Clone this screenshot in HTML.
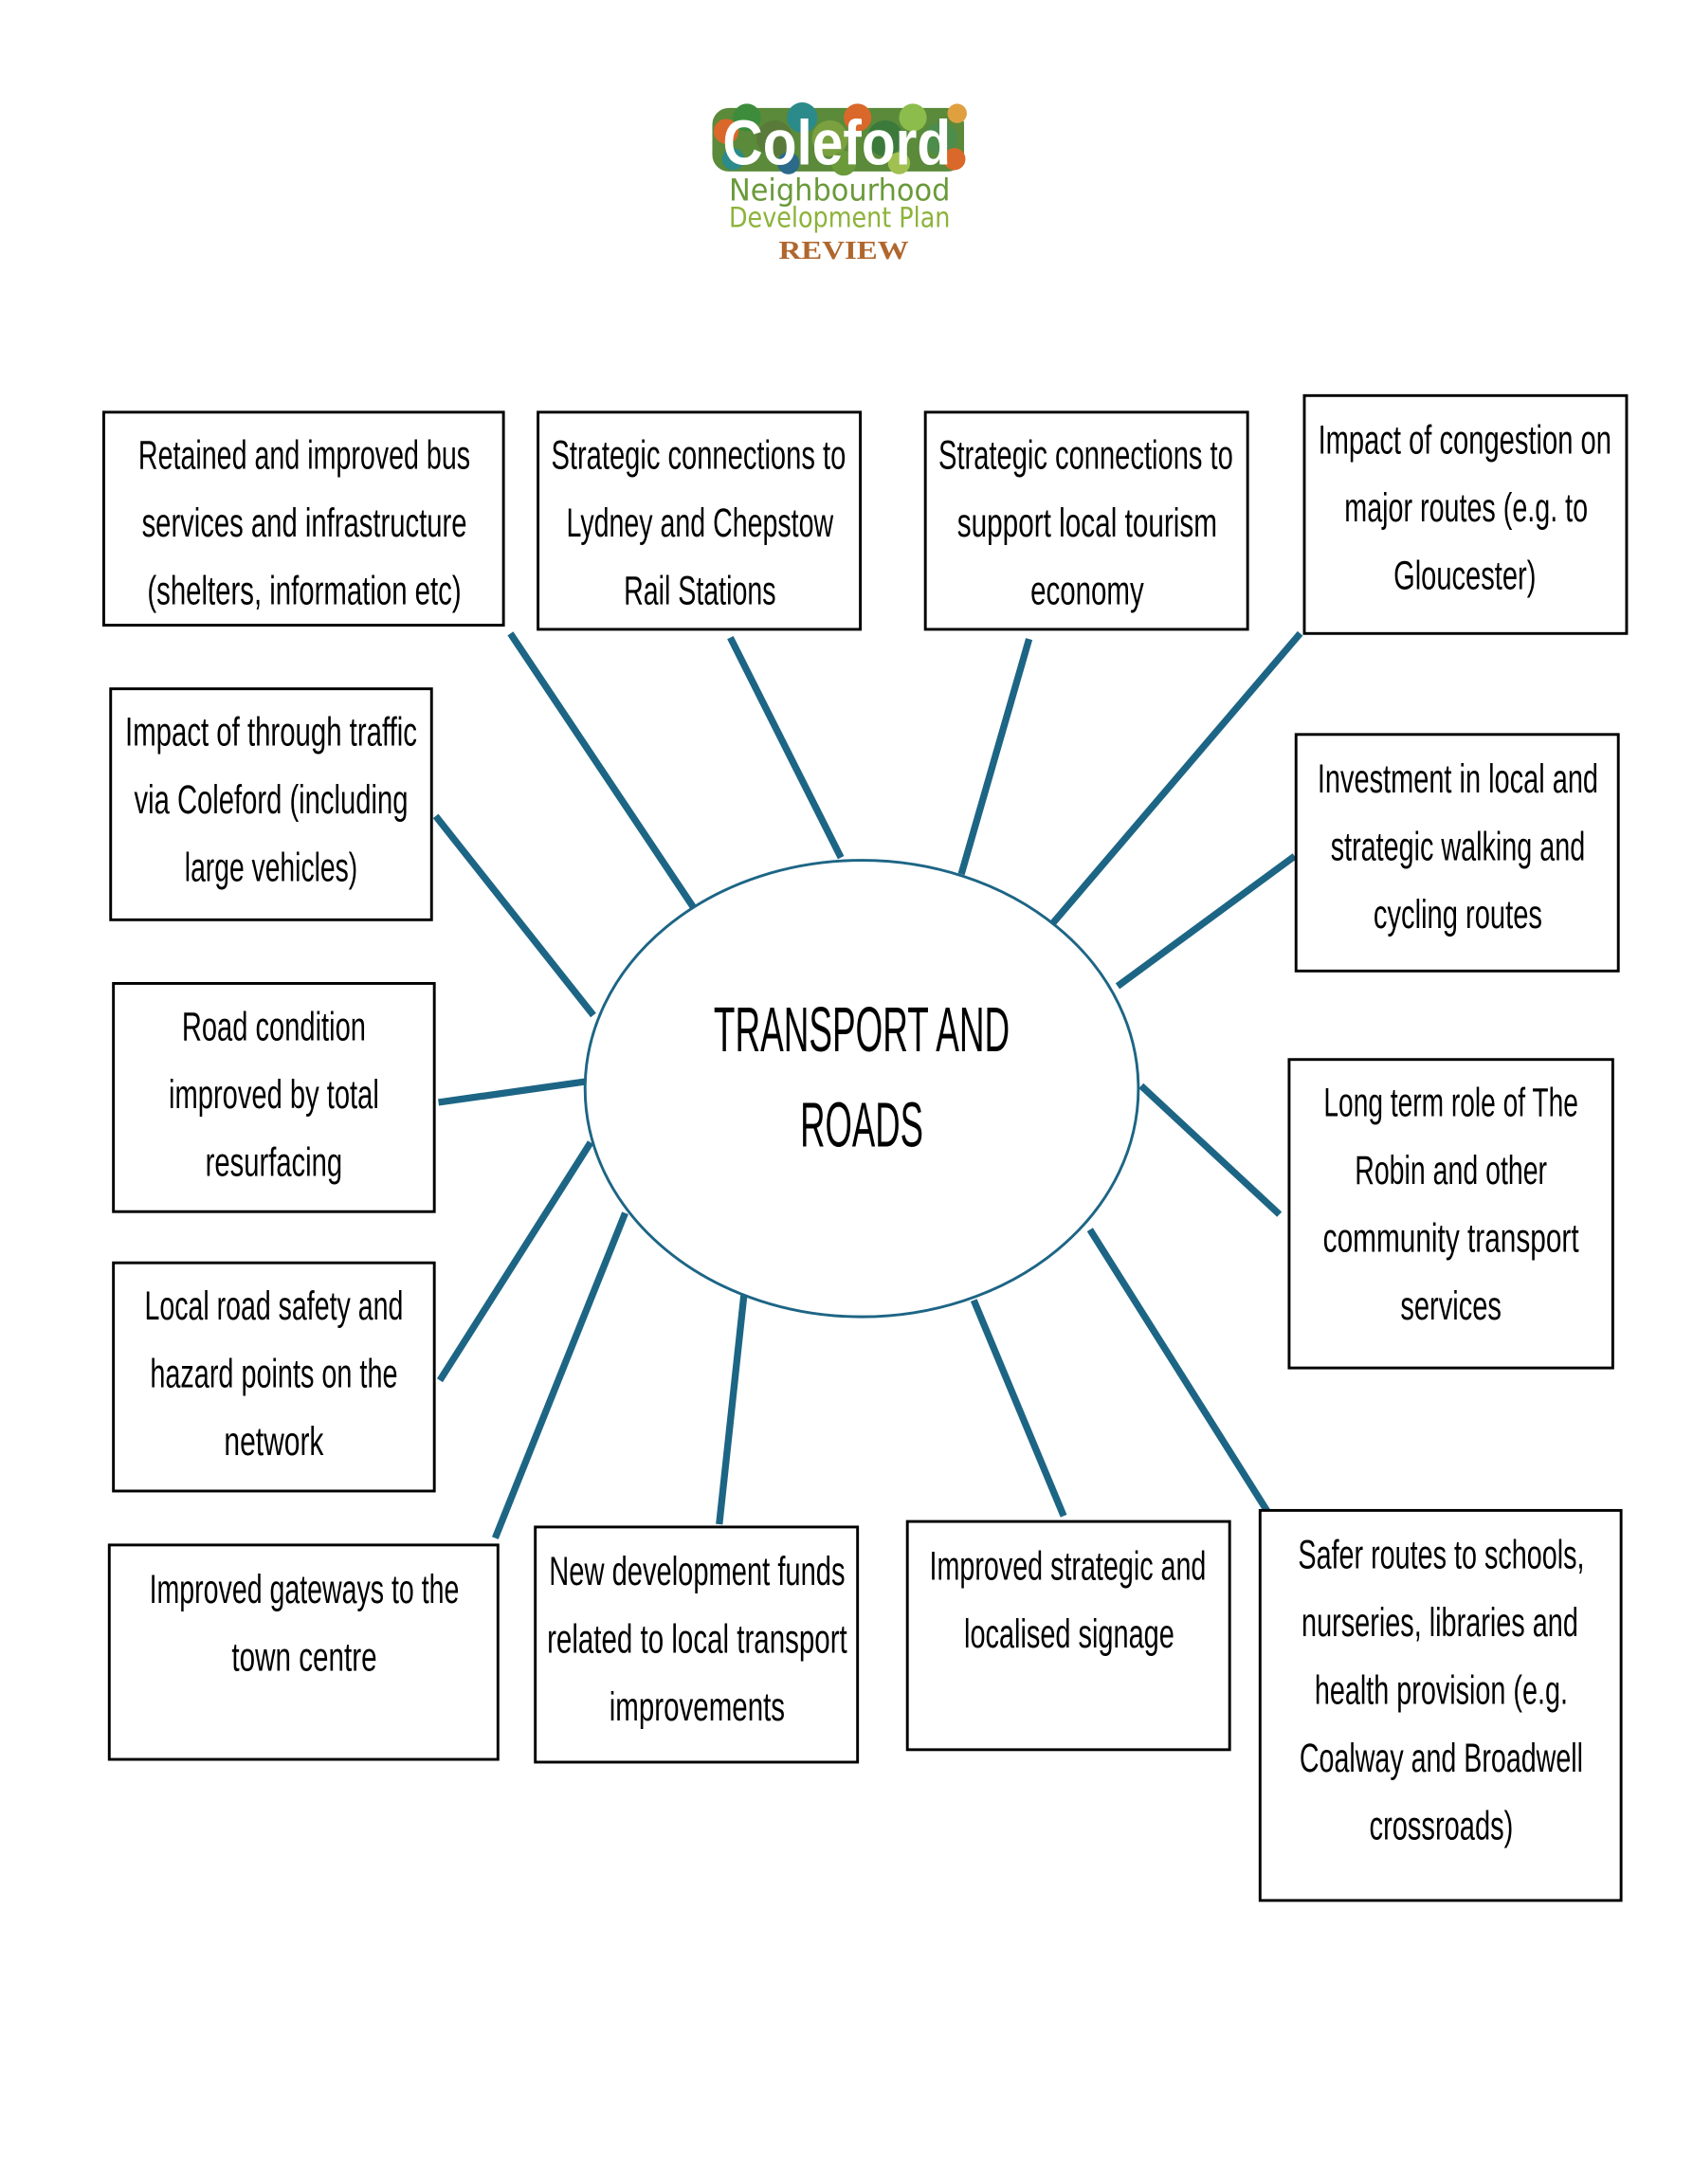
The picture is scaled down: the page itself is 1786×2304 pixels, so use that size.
<!DOCTYPE html>
<html><head><meta charset="utf-8"><style>
html,body{margin:0;padding:0;background:#fff;}
svg{display:block;}
.t{font-family:"Liberation Sans Narrow","Liberation Sans",sans-serif;font-size:29px;fill:#000;text-anchor:middle;}
.big{font-size:46px;}
.b{fill:#fff;stroke:#000;stroke-width:2;}
.l{stroke:#1d6585;stroke-width:5;stroke-linecap:butt;}
</style></head><body>
<svg width="1786" height="2304" viewBox="0 0 1224 1579" preserveAspectRatio="none" xmlns="http://www.w3.org/2000/svg">
<rect width="1224" height="1579" fill="#fff"/>
<!-- logo -->
<g>
<rect x="515" y="78" width="182" height="46" rx="12" fill="#5a8a3a"/>
<circle cx="525" cy="95" r="9" fill="#d9682a"/><circle cx="540" cy="85" r="10" fill="#3c8c3c"/>
<circle cx="560" cy="100" r="13" fill="#5a7a3a"/><circle cx="580" cy="85" r="11" fill="#2b8a8a"/>
<circle cx="600" cy="100" r="13" fill="#7aa040"/><circle cx="620" cy="85" r="10" fill="#d9682a"/>
<circle cx="640" cy="100" r="13" fill="#3c7a3c"/><circle cx="660" cy="85" r="10" fill="#8cbc4c"/>
<circle cx="680" cy="100" r="12" fill="#4c8c4c"/><circle cx="692" cy="82" r="7" fill="#e0a040"/>
<circle cx="530" cy="115" r="8" fill="#2b8a8a"/><circle cx="690" cy="115" r="8" fill="#d9682a"/>
<circle cx="610" cy="118" r="9" fill="#6a9a3a"/><circle cx="570" cy="118" r="8" fill="#2b6a8a"/>
<circle cx="650" cy="118" r="8" fill="#a0c050"/>
<text x="605" y="119" text-anchor="middle" font-family="Liberation Sans Narrow,Liberation Sans,sans-serif" font-weight="bold" font-size="46" fill="#fff" textLength="165" lengthAdjust="spacingAndGlyphs">Coleford</text>
<text x="607" y="145" text-anchor="middle" font-family="DejaVu Sans,sans-serif" font-size="22" fill="#6a9a3a" textLength="160" lengthAdjust="spacingAndGlyphs">Neighbourhood</text>
<text x="607" y="164" text-anchor="middle" font-family="DejaVu Sans,sans-serif" font-size="20" fill="#8db33a" textLength="160" lengthAdjust="spacingAndGlyphs">Development Plan</text>
<text x="610" y="187" text-anchor="middle" font-family="Liberation Serif,serif" font-weight="bold" font-size="19" fill="#b0672e" textLength="94" lengthAdjust="spacingAndGlyphs">REVIEW</text>
</g>
<!-- connectors -->
<line class="l" x1="369" y1="458" x2="502" y2="657"/>
<line class="l" x1="528" y1="461" x2="608" y2="620"/>
<line class="l" x1="744" y1="462" x2="695" y2="632"/>
<line class="l" x1="940" y1="458" x2="759" y2="670"/>
<line class="l" x1="936" y1="619" x2="808" y2="713"/>
<line class="l" x1="315" y1="590" x2="429" y2="734"/>
<line class="l" x1="317" y1="797" x2="423" y2="782"/>
<line class="l" x1="825" y1="785" x2="925" y2="878"/>
<line class="l" x1="318" y1="998" x2="427" y2="826"/>
<line class="l" x1="358" y1="1112" x2="452" y2="877"/>
<line class="l" x1="520" y1="1102" x2="538" y2="935"/>
<line class="l" x1="704" y1="940" x2="769" y2="1096"/>
<line class="l" x1="788" y1="889" x2="919" y2="1097"/>
<!-- ellipse -->
<ellipse cx="623" cy="787" rx="200" ry="165" fill="#fff" stroke="#1d6585" stroke-width="2"/>
<text class="t big" x="623" y="760" textLength="214" lengthAdjust="spacingAndGlyphs">TRANSPORT AND</text>
<text class="t big" x="623" y="829" textLength="89" lengthAdjust="spacingAndGlyphs">ROADS</text>
<!-- boxes -->
<rect class="b" x="75" y="298" width="289" height="154"/>
<text class="t" x="220" y="339" textLength="240" lengthAdjust="spacingAndGlyphs">Retained and improved bus</text>
<text class="t" x="220" y="388" textLength="235" lengthAdjust="spacingAndGlyphs">services and infrastructure</text>
<text class="t" x="220" y="437" textLength="227" lengthAdjust="spacingAndGlyphs">(shelters, information etc)</text>

<rect class="b" x="389" y="298" width="233" height="157"/>
<text class="t" x="505" y="339" textLength="213" lengthAdjust="spacingAndGlyphs">Strategic connections to</text>
<text class="t" x="506" y="388" textLength="193" lengthAdjust="spacingAndGlyphs">Lydney and Chepstow</text>
<text class="t" x="506" y="437" textLength="110" lengthAdjust="spacingAndGlyphs">Rail Stations</text>

<rect class="b" x="669" y="298" width="233" height="157"/>
<text class="t" x="785" y="339" textLength="213" lengthAdjust="spacingAndGlyphs">Strategic connections to</text>
<text class="t" x="786" y="388" textLength="188" lengthAdjust="spacingAndGlyphs">support local tourism</text>
<text class="t" x="786" y="437" textLength="82" lengthAdjust="spacingAndGlyphs">economy</text>

<rect class="b" x="943" y="286" width="233" height="172"/>
<text class="t" x="1059" y="328" textLength="212" lengthAdjust="spacingAndGlyphs">Impact of congestion on</text>
<text class="t" x="1060" y="377" textLength="176" lengthAdjust="spacingAndGlyphs">major routes (e.g. to</text>
<text class="t" x="1059" y="426" textLength="103" lengthAdjust="spacingAndGlyphs">Gloucester)</text>

<rect class="b" x="80" y="498" width="232" height="167"/>
<text class="t" x="196" y="539" textLength="211" lengthAdjust="spacingAndGlyphs">Impact of through traffic</text>
<text class="t" x="196" y="588" textLength="198" lengthAdjust="spacingAndGlyphs">via Coleford (including</text>
<text class="t" x="196" y="637" textLength="125" lengthAdjust="spacingAndGlyphs">large vehicles)</text>

<rect class="b" x="937" y="531" width="233" height="171"/>
<text class="t" x="1054" y="573" textLength="203" lengthAdjust="spacingAndGlyphs">Investment in local and</text>
<text class="t" x="1054" y="622" textLength="184" lengthAdjust="spacingAndGlyphs">strategic walking and</text>
<text class="t" x="1054" y="671" textLength="122" lengthAdjust="spacingAndGlyphs">cycling routes</text>

<rect class="b" x="82" y="711" width="232" height="165"/>
<text class="t" x="198" y="752" textLength="133" lengthAdjust="spacingAndGlyphs">Road condition</text>
<text class="t" x="198" y="801" textLength="152" lengthAdjust="spacingAndGlyphs">improved by total</text>
<text class="t" x="198" y="850" textLength="99" lengthAdjust="spacingAndGlyphs">resurfacing</text>

<rect class="b" x="932" y="766" width="234" height="223"/>
<text class="t" x="1049" y="807" textLength="184" lengthAdjust="spacingAndGlyphs">Long term role of The</text>
<text class="t" x="1049" y="856" textLength="139" lengthAdjust="spacingAndGlyphs">Robin and other</text>
<text class="t" x="1049" y="905" textLength="185" lengthAdjust="spacingAndGlyphs">community transport</text>
<text class="t" x="1049" y="954" textLength="73" lengthAdjust="spacingAndGlyphs">services</text>

<rect class="b" x="82" y="913" width="232" height="165"/>
<text class="t" x="198" y="954" textLength="187" lengthAdjust="spacingAndGlyphs">Local road safety and</text>
<text class="t" x="198" y="1003" textLength="179" lengthAdjust="spacingAndGlyphs">hazard points on the</text>
<text class="t" x="198" y="1052" textLength="72" lengthAdjust="spacingAndGlyphs">network</text>

<rect class="b" x="79" y="1117" width="281" height="155"/>
<text class="t" x="220" y="1159" textLength="224" lengthAdjust="spacingAndGlyphs">Improved gateways to the</text>
<text class="t" x="220" y="1208" textLength="105" lengthAdjust="spacingAndGlyphs">town centre</text>

<rect class="b" x="387" y="1104" width="233" height="170"/>
<text class="t" x="504" y="1146" textLength="214" lengthAdjust="spacingAndGlyphs">New development funds</text>
<text class="t" x="504" y="1195" textLength="217" lengthAdjust="spacingAndGlyphs">related to local transport</text>
<text class="t" x="504" y="1244" textLength="127" lengthAdjust="spacingAndGlyphs">improvements</text>

<rect class="b" x="656" y="1100" width="233" height="165"/>
<text class="t" x="772" y="1142" textLength="200" lengthAdjust="spacingAndGlyphs">Improved strategic and</text>
<text class="t" x="773" y="1191" textLength="152" lengthAdjust="spacingAndGlyphs">localised signage</text>

<rect class="b" x="911" y="1092" width="261" height="282"/>
<text class="t" x="1042" y="1134" textLength="207" lengthAdjust="spacingAndGlyphs">Safer routes to schools,</text>
<text class="t" x="1041" y="1183" textLength="200" lengthAdjust="spacingAndGlyphs">nurseries, libraries and</text>
<text class="t" x="1042" y="1232" textLength="183" lengthAdjust="spacingAndGlyphs">health provision (e.g.</text>
<text class="t" x="1042" y="1281" textLength="205" lengthAdjust="spacingAndGlyphs">Coalway and Broadwell</text>
<text class="t" x="1042" y="1330" textLength="104" lengthAdjust="spacingAndGlyphs">crossroads)</text>
</svg>
</body></html>
